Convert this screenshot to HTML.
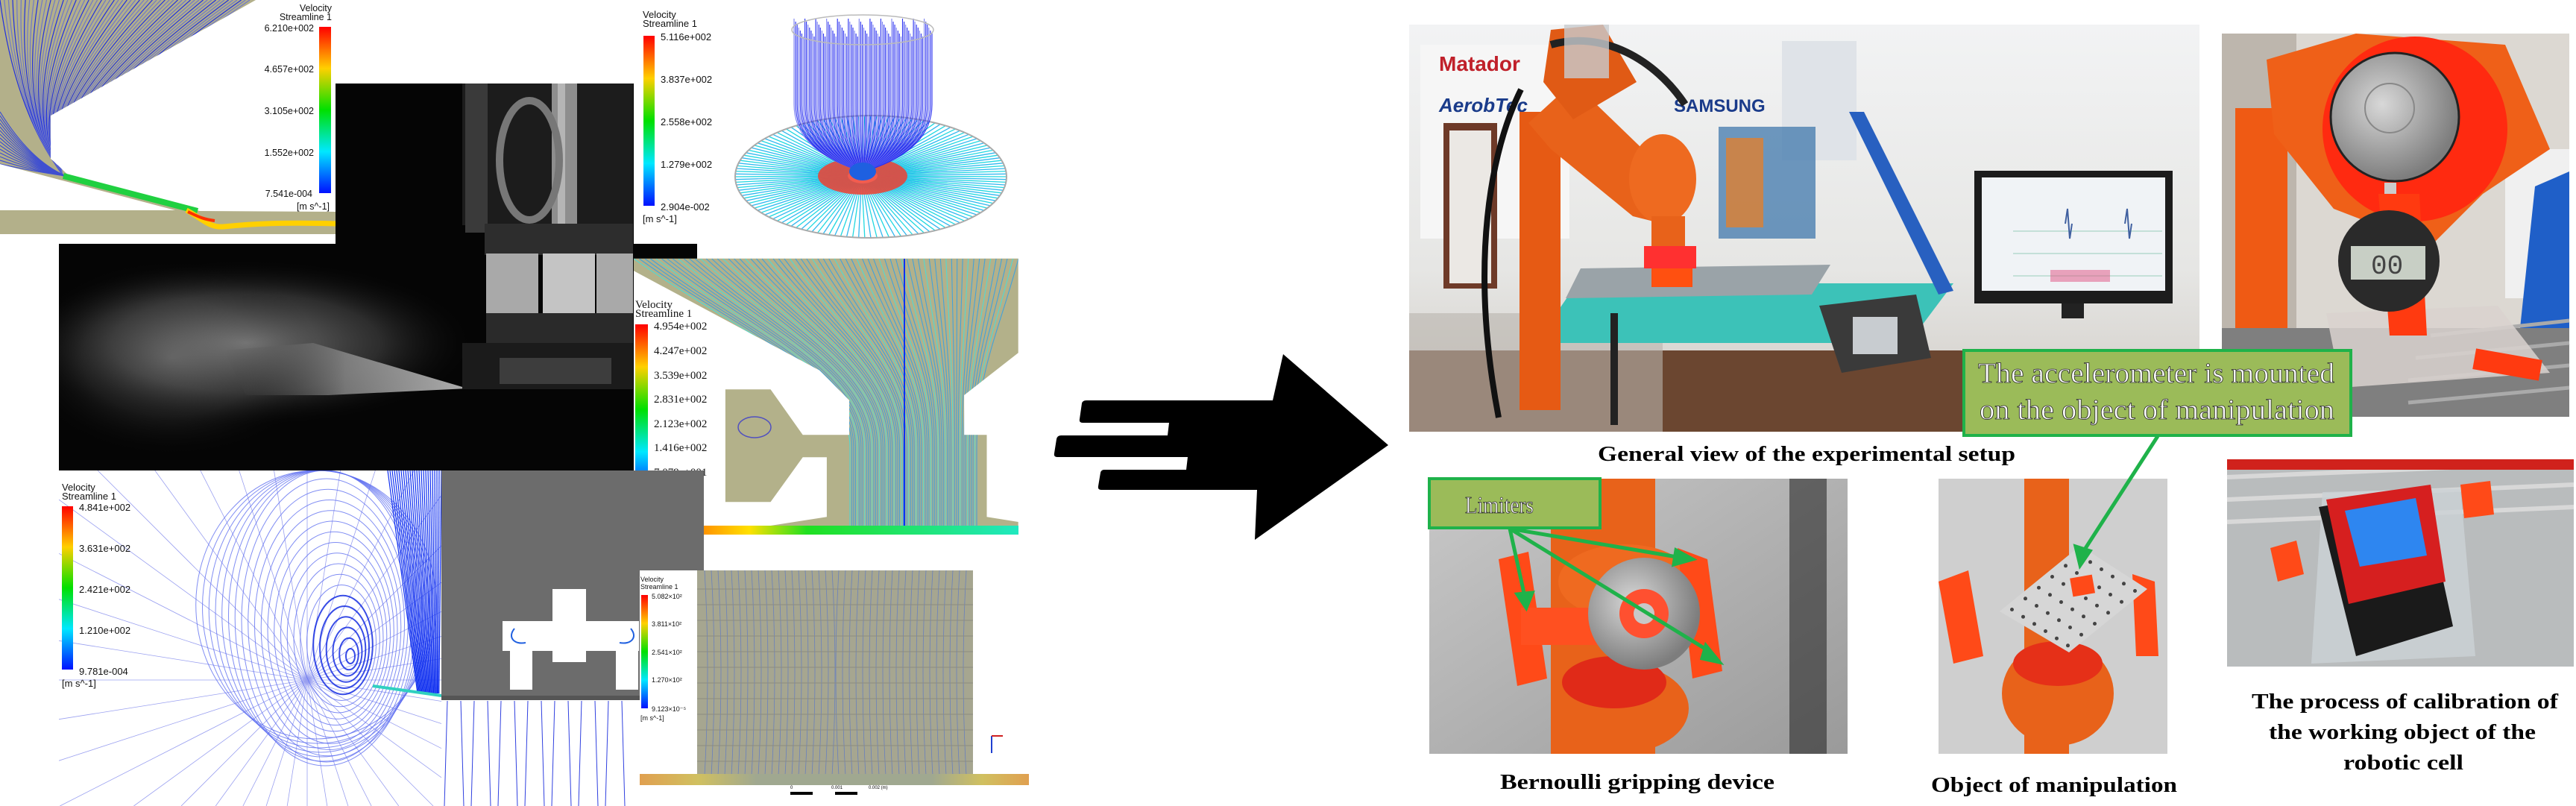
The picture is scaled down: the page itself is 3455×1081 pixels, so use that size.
<!DOCTYPE html>
<html><head><meta charset="utf-8"><style>
html,body{margin:0;padding:0;background:#fff;width:3455px;height:1081px;overflow:hidden;}
svg{display:block;overflow:hidden;}
.ser{font-family:"Liberation Serif",serif;}
.san{font-family:"Liberation Sans",sans-serif;}
</style></head><body>
<svg id="root" width="3455" height="1081" viewBox="0 0 3455 1081" xmlns="http://www.w3.org/2000/svg">
<defs>
<linearGradient id="cbar" x1="0" y1="0" x2="0" y2="1">
<stop offset="0" stop-color="#ff0000"/><stop offset="0.25" stop-color="#ffd000"/><stop offset="0.5" stop-color="#00e000"/><stop offset="0.75" stop-color="#00e8ff"/><stop offset="1" stop-color="#0010ff"/>
</linearGradient>
<linearGradient id="strip1" x1="0" y1="0" x2="1" y2="0">
<stop offset="0" stop-color="#ff2000"/><stop offset="0.3" stop-color="#ffe000"/><stop offset="0.45" stop-color="#20e020"/><stop offset="1" stop-color="#20e8c0"/>
</linearGradient>
<linearGradient id="strip2" x1="0" y1="0" x2="1" y2="0">
<stop offset="0" stop-color="#e0a050"/><stop offset="0.15" stop-color="#d0c060"/><stop offset="0.3" stop-color="#a0a890"/><stop offset="0.75" stop-color="#a0a890"/><stop offset="0.88" stop-color="#d0c060"/><stop offset="1" stop-color="#e0a050"/>
</linearGradient>
<radialGradient id="smoke" cx="0.5" cy="0.5" r="0.5">
<stop offset="0" stop-color="#8a8a8a" stop-opacity="0.9"/><stop offset="0.6" stop-color="#555" stop-opacity="0.5"/><stop offset="1" stop-color="#111" stop-opacity="0"/>
</radialGradient>
<linearGradient id="jet" x1="1" y1="0" x2="0" y2="0">
<stop offset="0" stop-color="#d8d8d8"/><stop offset="0.5" stop-color="#8d8d8d"/><stop offset="1" stop-color="#3a3a3a" stop-opacity="0"/>
</linearGradient>
<radialGradient id="metal" cx="0.4" cy="0.4" r="0.6">
<stop offset="0" stop-color="#d8d8d8"/><stop offset="1" stop-color="#7d7d7d"/>
</radialGradient>
<linearGradient id="room" x1="0" y1="0" x2="0" y2="1">
<stop offset="0" stop-color="#f2f3f4"/><stop offset="0.6" stop-color="#e6e6e4"/><stop offset="1" stop-color="#cfcac4"/>
</linearGradient>
<linearGradient id="grayfloor" x1="0" y1="0" x2="1" y2="1">
<stop offset="0" stop-color="#c8c8c8"/><stop offset="1" stop-color="#9a9a9a"/>
</linearGradient>
<clipPath id="clipTL"><polygon points="0,0 343,0 68,155 68,213 95,238 268,283 450,284 450,314 0,314 0,282 235,282 0,220"/></clipPath>
<clipPath id="clipMid"><polygon id="mid-clip-poly"/></clipPath>
<clipPath id="clipBL"><rect x="79" y="631" width="513" height="450"/><rect x="592" y="938" width="266" height="143"/></clipPath>
<clipPath id="clipBR"><rect x="935" y="765" width="370" height="275"/></clipPath>
<clipPath id="clipDisc"><rect x="940" y="0" width="440" height="327"/></clipPath>
<clipPath id="clipJet"><polygon points="450,112 850,112 850,631 79,631 79,327 450,327"/></clipPath>
</defs>

<g id="cfd-top-left">
<rect x="0" y="0" width="450" height="327" fill="#fff"/>
<polygon points="0,0 343,0 68,155 68,213 95,238 268,283 450,284 450,314 0,314 0,282 235,282 0,220" fill="#b3b08a"/>
<g id="tl-lines" clip-path="url(#clipTL)"></g>
<path d="M85,236 L265,283" stroke="#20d040" stroke-width="8" fill="none"/>
<path d="M250,282 C270,292 280,306 300,304 C340,300 380,298 450,300" stroke="#ffd000" stroke-width="7" fill="none"/>
<path d="M252,284 C265,290 272,294 288,296" stroke="#ff3000" stroke-width="4" fill="none"/>
<rect x="428" y="36" width="16" height="223" fill="url(#cbar)"/>
<g class="san" font-size="12.5" fill="#111" text-anchor="end">
<text x="445" y="15">Velocity</text><text x="445" y="27">Streamline 1</text>
<text x="421" y="42">6.210e+002</text><text x="421" y="97">4.657e+002</text><text x="421" y="153">3.105e+002</text><text x="421" y="209">1.552e+002</text><text x="419" y="264">7.541e-004</text><text x="442" y="281">[m s^-1]</text>
</g>
</g>

<g id="photo-jet">
<polygon points="450,112 850,112 850,327 935,327 935,347 850,347 850,631 79,631 79,327 450,327" fill="#050505"/>
<g clip-path="url(#clipJet)">
<ellipse cx="330" cy="460" rx="300" ry="110" fill="url(#smoke)"/>
<ellipse cx="230" cy="480" rx="200" ry="130" fill="url(#smoke)" opacity="0.5"/>
<polygon points="627,521 420,460 300,470 330,530 440,530" fill="url(#jet)" opacity="0.8"/>
</g>
<rect x="620" y="112" width="229" height="190" fill="#1c1c1c"/>
<rect x="624" y="112" width="30" height="200" fill="#3a3a3a"/>
<rect x="740" y="112" width="34" height="245" fill="#8e8e8e"/>
<rect x="748" y="112" width="10" height="245" fill="#b5b5b5"/>
<ellipse cx="710" cy="215" rx="40" ry="80" fill="none" stroke="#777" stroke-width="10"/>
<rect x="650" y="300" width="199" height="42" fill="#2d2d2d"/>
<rect x="652" y="340" width="70" height="80" fill="#a9a9a9"/>
<rect x="728" y="340" width="70" height="80" fill="#c4c4c4"/>
<rect x="800" y="340" width="49" height="80" fill="#a9a9a9"/>
<rect x="652" y="420" width="197" height="40" fill="#2a2a2a"/>
<rect x="620" y="460" width="229" height="62" fill="#1b1b1b"/>
<rect x="670" y="480" width="150" height="35" fill="#3d3d3d"/>
</g>

<g id="cfd-disc">
<rect x="850" y="0" width="530" height="327" fill="#fff"/>
<g id="disc-lines" clip-path="url(#clipDisc)"></g>
<rect x="863" y="48" width="15" height="228" fill="url(#cbar)"/>
<g class="san" font-size="13" fill="#111">
<text x="862" y="24">Velocity</text><text x="862" y="36">Streamline 1</text>
<text x="886" y="54">5.116e+002</text><text x="886" y="111">3.837e+002</text><text x="886" y="168">2.558e+002</text><text x="886" y="225">1.279e+002</text><text x="886" y="282">2.904e-002</text><text x="862" y="298">[m s^-1]</text>
</g>
</g>

<g id="cfd-mid">
<rect x="850" y="347" width="530" height="370" fill="#fff"/>
<polygon id="mid-poly" fill="#b3b18a"/>
<g id="mid-lines" clip-path="url(#clipMid)"></g>
<rect x="850" y="705" width="516" height="12" fill="url(#strip1)"/>
<rect x="852" y="435" width="17" height="228" fill="url(#cbar)"/>
<g class="ser" font-size="15" fill="#111">
<text x="852" y="413">Velocity</text><text x="852" y="425">Streamline 1</text>
<text x="877" y="442">4.954e+002</text><text x="877" y="475">4.247e+002</text><text x="877" y="508">3.539e+002</text><text x="877" y="540">2.831e+002</text><text x="877" y="573">2.123e+002</text><text x="877" y="605">1.416e+002</text><text x="877" y="638">7.079e+001</text><text x="877" y="671">1.629e-002</text><text x="852" y="686">[m s^-1]</text>
</g>
</g>

<g id="cfd-bottom-left">
<rect x="79" y="631" width="513" height="450" fill="#fff"/>
<rect x="592" y="631" width="352" height="302" fill="#6c6c6c"/>
<rect x="858" y="727" width="86" height="40" fill="#6c6c6c"/>
<rect x="592" y="933" width="266" height="148" fill="#fff"/>
<g id="bl-lines" clip-path="url(#clipBL)"></g>
<g fill="#fff">
<rect x="741" y="790" width="45" height="98" />
<rect x="674" y="833" width="183" height="40"/>
<rect x="684" y="870" width="30" height="55"/>
<rect x="826" y="870" width="30" height="55"/>
</g>
<path d="M690,843 C680,855 690,865 705,862" stroke="#2060e0" stroke-width="2" fill="none"/>
<path d="M846,843 C856,855 846,865 831,862" stroke="#2060e0" stroke-width="2" fill="none"/>
<rect x="592" y="933" width="266" height="6" fill="#555"/>
<rect x="83" y="679" width="15" height="219" fill="url(#cbar)"/>
<g class="san" font-size="13" fill="#111">
<text x="83" y="658">Velocity</text><text x="83" y="670">Streamline 1</text>
<text x="106" y="685">4.841e+002</text><text x="106" y="740">3.631e+002</text><text x="106" y="795">2.421e+002</text><text x="106" y="850">1.210e+002</text><text x="106" y="905">9.781e-004</text><text x="83" y="921">[m s^-1]</text>
</g>
</g>

<g id="cfd-bottom-right">
<rect x="858" y="765" width="522" height="288" fill="#fff"/>
<rect x="935" y="765" width="370" height="275" fill="#a6a690"/>
<g id="br-lines" clip-path="url(#clipBR)"></g>
<rect x="858" y="1038" width="522" height="15" fill="url(#strip2)"/>
<rect x="860" y="798" width="9" height="152" fill="url(#cbar)"/>
<g class="san" font-size="9" fill="#111">
<text x="859" y="780">Velocity</text><text x="859" y="790">Streamline 1</text>
<text x="874" y="803">5.082×10²</text><text x="874" y="840">3.811×10²</text><text x="874" y="878">2.541×10²</text><text x="874" y="915">1.270×10²</text><text x="874" y="954">9.123×10⁻⁵</text><text x="859" y="966">[m s^-1]</text>
</g>
<line x1="1330" y1="987" x2="1330" y2="1010" stroke="#2040d0" stroke-width="2"/>
<line x1="1330" y1="987" x2="1345" y2="987" stroke="#d02020" stroke-width="2"/>
<g>
<rect x="1060" y="1062" width="30" height="4" fill="#000"/><rect x="1120" y="1062" width="30" height="4" fill="#000"/>
<text x="1060" y="1058" font-size="6" class="san">0</text><text x="1115" y="1058" font-size="6" class="san">0.001</text><text x="1165" y="1058" font-size="6" class="san">0.002 (m)</text>
</g>
</g>

<path fill="#000"
d="M1721,475 L1862,597 L1683,724 L1686,657 L1477,657 Q1472,657 1473,652 L1476,634 Q1477,630 1481,630 L1591,630 L1593,613 L1418,613 Q1413,613 1414,608 L1417,589 Q1418,584 1423,584 L1566,584 L1568,567 L1452,567 Q1447,567 1448,562 L1451,541 Q1452,537 1457,537 L1707,537 Z"/>

<g id="photo-general">
<rect x="1890" y="33" width="1060" height="546" fill="url(#room)"/>
<rect x="1905" y="60" width="200" height="260" fill="#f6f6f6"/>
<text x="1930" y="95" font-size="28" font-weight="bold" fill="#c0202a" class="san">Matador</text>
<text x="1930" y="150" font-size="26" font-weight="bold" fill="#1a3b8a" class="san" font-style="italic">AerobTec</text>
<text x="2245" y="150" font-size="24" font-weight="bold" fill="#1a3b8a" class="san">SAMSUNG</text>
<rect x="2390" y="55" width="100" height="160" fill="#dfe3e8"/>
<rect x="1936" y="165" width="72" height="222" fill="#6e3a28"/>
<rect x="1944" y="175" width="56" height="205" fill="#ebe8e4"/>
<rect x="2305" y="170" width="130" height="150" fill="#3470a8" opacity="0.7"/>
<rect x="2315" y="185" width="50" height="120" fill="#e08030" opacity="0.8"/>
<rect x="1890" y="470" width="1060" height="109" fill="#6b4630"/>
<rect x="1890" y="420" width="340" height="159" fill="#b9b4ad" opacity="0.6"/>
<polygon points="2115,380 2620,380 2560,460 2060,460" fill="#3cc2b8"/>
<polygon points="2120,360 2455,355 2430,395 2100,400" fill="#9aa3a8"/>
<rect x="2160" y="420" width="10" height="150" fill="#222"/>
<polygon points="2480,150 2500,150 2620,390 2600,395" fill="#2860c0"/>
<rect x="2648" y="229" width="266" height="178" fill="#1c1c1c"/>
<rect x="2658" y="238" width="246" height="152" fill="#f0f3f6"/>
<path d="M2700,310 L2900,310 M2700,340 L2900,340 M2700,370 L2900,370" stroke="#9cb" stroke-width="1"/>
<path d="M2770,300 l3,-20 l3,40 l3,-20 M2850,300 l3,-20 l3,40 l3,-20" stroke="#4060a0" stroke-width="2" fill="none"/>
<rect x="2750" y="362" width="80" height="16" fill="#e05080" opacity="0.5"/>
<rect x="2765" y="407" width="30" height="20" fill="#222"/>
<polygon points="2440,410 2570,395 2590,480 2470,500" fill="#3a3a3a"/>
<rect x="2485" y="425" width="60" height="50" fill="#c8ccd0"/>
<rect x="2038" y="150" width="55" height="400" fill="#e65a14"/>
<polygon points="2050,165 2110,110 2255,250 2230,300 2190,290 2080,200" fill="#e8621a"/>
<polygon points="2080,40 2150,33 2195,110 2110,160 2070,110" fill="#e05a15"/>
<ellipse cx="2230" cy="240" rx="45" ry="60" fill="#ee6a20"/>
<rect x="2215" y="290" width="45" height="40" fill="#e8621a"/>
<rect x="2205" y="330" width="70" height="30" fill="#ff3030"/>
<rect x="2215" y="360" width="55" height="25" fill="#ff5010"/>
<path d="M2040,120 C2000,200 1970,350 2010,560" stroke="#111" stroke-width="8" fill="none"/>
<path d="M2080,60 C2150,40 2220,80 2260,140" stroke="#222" stroke-width="10" fill="none"/>
<rect x="2098" y="33" width="60" height="72" fill="#c8ccd0" opacity="0.8"/>
</g>

<g id="photo-gauge">
<rect x="2980" y="45" width="466" height="514" fill="#dcd8d2"/>
<rect x="2980" y="45" width="100" height="514" fill="#bdb6ad"/>
<rect x="3360" y="200" width="86" height="200" fill="#f0f0f0"/>
<polygon points="3400,250 3446,230 3446,440 3380,440" fill="#1f5fc8"/>
<rect x="2998" y="145" width="70" height="330" fill="#ef5a14"/>
<polygon points="3040,80 3160,45 3360,60 3420,200 3330,260 3260,330 3130,280 3050,180" fill="#ef6018"/>
<rect x="2980" y="440" width="466" height="119" fill="#7f7f7f"/>
<path d="M3260,450 L3446,430 M3240,480 L3446,460 M3230,510 L3446,490 M3230,540 L3446,520" stroke="#aaa" stroke-width="5"/>
<polygon points="3120,420 3350,410 3420,500 3140,520" fill="#d9d2cf" opacity="0.85"/>
<circle cx="3239" cy="173" r="124" fill="#ff2a10"/>
<circle cx="3212" cy="157" r="86" fill="url(#metal)" stroke="#222" stroke-width="3"/>
<circle cx="3205" cy="145" r="33" fill="none" stroke="#888" stroke-width="2"/>
<rect x="3198" y="245" width="16" height="40" fill="#ccc"/>
<polygon points="3190,260 3245,260 3255,450 3205,450" fill="#ff3a10"/>
<circle cx="3204" cy="350" r="68" fill="#2a2a2a"/>
<rect x="3153" y="330" width="100" height="45" fill="#c8cfc5"/>
<text x="3180" y="367" font-size="36" font-family="Liberation Mono,monospace" fill="#444">00</text>
<rect x="3318" y="475" width="90" height="28" fill="#ff3a10" transform="rotate(10 3363 489)"/>
</g>

<g id="photo-bernoulli">
<rect x="1917" y="642" width="561" height="369" fill="url(#grayfloor)"/>
<rect x="2400" y="642" width="50" height="369" fill="#2a2a2a" opacity="0.6"/>
<rect x="2080" y="642" width="140" height="369" fill="#e8621a"/>
<ellipse cx="2180" cy="780" rx="90" ry="50" fill="#ef6a20"/>
<ellipse cx="2175" cy="950" rx="90" ry="60" fill="#e8621a"/>
<ellipse cx="2165" cy="915" rx="70" ry="35" fill="#e02a18"/>
<polygon points="2010,750 2050,740 2075,910 2035,920" fill="#ff4a18"/>
<polygon points="2250,735 2290,750 2310,900 2270,910" fill="#ff4a18"/>
<rect x="2040" y="815" width="150" height="50" fill="#ff5020"/>
<circle cx="2205" cy="823" r="75" fill="url(#metal)"/>
<circle cx="2205" cy="823" r="33" fill="#ff5030"/>
<circle cx="2205" cy="823" r="14" fill="#c8c8c8"/>
</g>

<g id="photo-object">
<rect x="2600" y="642" width="307" height="369" fill="#cfcfcf"/>
<rect x="2715" y="642" width="60" height="369" fill="#e8621a"/>
<ellipse cx="2760" cy="930" rx="75" ry="70" fill="#e8621a"/>
<ellipse cx="2760" cy="890" rx="60" ry="30" fill="#e53018"/>
<polygon points="2600,780 2640,765 2660,880 2620,890" fill="#ff4a18"/>
<polygon points="2860,770 2890,780 2895,880 2865,880" fill="#ff4a18"/>
<polygon points="2790,732 2880,790 2775,875 2682,820" fill="#d6d6d6"/>
<g id="plate-holes"></g>
<rect x="2778" y="773" width="30" height="25" fill="#ff4a18" transform="rotate(-10 2793 785)"/>
</g>

<g id="photo-calib">
<rect x="2987" y="616" width="465" height="278" fill="#b9bcbd"/>
<path d="M2987,640 L3452,620 M2987,670 L3452,650 M2987,700 L3452,680" stroke="#d8d8d8" stroke-width="6"/>
<rect x="2987" y="616" width="465" height="14" fill="#d0221c"/>
<polygon points="3115,660 3300,655 3320,880 3100,890" fill="#ccd2d6" opacity="0.8"/>
<polygon points="3110,680 3250,655 3290,840 3160,880" fill="#1a1a1a"/>
<polygon points="3120,670 3260,650 3280,780 3150,810" fill="#d61f1f"/>
<polygon points="3145,685 3240,668 3255,745 3165,760" fill="#2e86f0"/>
<polygon points="3045,735 3080,725 3090,770 3055,780" fill="#ff4a18"/>
<polygon points="3300,650 3340,645 3345,690 3305,695" fill="#ff4a18"/>
</g>

<g stroke="#1fb24a" stroke-width="5" fill="#1fb24a">
<line x1="2025" y1="709" x2="2045" y2="800"/><polygon points="2035,797 2055,795 2047,815"/>
<line x1="2025" y1="709" x2="2255" y2="748"/><polygon points="2248,738 2270,750 2245,757"/>
<line x1="2025" y1="709" x2="2295" y2="875"/><polygon points="2288,866 2306,888 2283,883"/>
<line x1="2894" y1="585" x2="2794" y2="740"/><polygon points="2784,733 2790,758 2803,739"/>
</g>
<g>
<rect x="1917" y="642" width="229" height="66" fill="#9bbb59" stroke="#1fb24a" stroke-width="4"/>
<text x="2011" y="688" font-size="32" class="ser" fill="#fff" stroke="#2a2a2a" stroke-width="0.8" text-anchor="middle" textLength="92" lengthAdjust="spacingAndGlyphs">Limiters</text>
</g>
<g>
<rect x="2634" y="470" width="519" height="114" fill="#9bbb59" stroke="#1fb24a" stroke-width="4"/>
<text x="2653" y="513" font-size="38" class="ser" fill="#fff" stroke="#2a2a2a" stroke-width="0.8" textLength="478" lengthAdjust="spacingAndGlyphs">The accelerometer is mounted</text>
<text x="2655" y="562" font-size="38" class="ser" fill="#fff" stroke="#2a2a2a" stroke-width="0.8" textLength="476" lengthAdjust="spacingAndGlyphs">on the object of manipulation</text>
</g>

<g class="ser" font-weight="bold" font-size="29" fill="#000">
<text x="2143" y="618" textLength="560" lengthAdjust="spacingAndGlyphs">General view of the experimental  setup</text>
<text x="2012" y="1058" textLength="368" lengthAdjust="spacingAndGlyphs">Bernoulli gripping device</text>
<text x="2590" y="1062" textLength="330" lengthAdjust="spacingAndGlyphs">Object of manipulation</text>
<text x="3020" y="950" textLength="411" lengthAdjust="spacingAndGlyphs">The process of calibration of</text>
<text x="3043" y="991" textLength="358" lengthAdjust="spacingAndGlyphs">the working object of the</text>
<text x="3143" y="1032" textLength="161" lengthAdjust="spacingAndGlyphs">robotic cell</text>
</g>
</svg>
<script>
var NS="http://www.w3.org/2000/svg";
function mk(parent,tag,attrs){var e=document.createElementNS(NS,tag);for(var k in attrs)e.setAttribute(k,attrs[k]);parent.appendChild(e);return e;}
var g=document.getElementById('tl-lines');
for(var i=0;i<60;i++){var t=i/59;var x0=t*335;mk(g,'path',{d:'M'+x0.toFixed(1)+',0 Q'+(20+t*40).toFixed(1)+','+(150+t*40).toFixed(1)+' 85,236',stroke:(i%3?'#6f78c8':'#2030e0'),'stroke-width':'1.2',fill:'none'});}
for(var i=0;i<15;i++){mk(g,'path',{d:'M0,'+(150+i*5)+' Q40,'+(215+i)+' 88,236',stroke:'#4050d0','stroke-width':'1.2',fill:'none'});}
g=document.getElementById('disc-lines');
var cx=1168,cy=237,rx=182,ry=82;
for(var i=0;i<140;i++){var a=i/140*Math.PI*2;var ex=cx+rx*Math.cos(a),ey=cy+ry*Math.sin(a);
mk(g,'line',{x1:(1157+20*Math.cos(a)).toFixed(1),y1:(236+10*Math.sin(a)).toFixed(1),x2:ex.toFixed(1),y2:ey.toFixed(1),stroke:(i%2?'#30b8f0':'#20d8e0'),'stroke-width':'1.3'});}
mk(g,'ellipse',{cx:cx,cy:cy,rx:rx,ry:ry,fill:'none',stroke:'#aaa','stroke-width':'2'});
mk(g,'ellipse',{cx:1157,cy:236,rx:60,ry:25,fill:'#f04030',opacity:'0.85'});
for(var i=0;i<90;i++){var t=i/89;var x0=1065+t*185;mk(g,'path',{d:'M'+x0.toFixed(1)+','+(25+(i%7)*4)+' L'+x0.toFixed(1)+',140 Q'+x0.toFixed(1)+',200 '+(1150+t*15).toFixed(1)+',228',stroke:(i%3?'#2a30f0':'#7a80f0'),'stroke-width':'1.1',fill:'none'});}
mk(g,'ellipse',{cx:1157,cy:40,rx:95,ry:20,fill:'none',stroke:'#bbb','stroke-width':'1.5'});
mk(g,'ellipse',{cx:1157,cy:230,rx:18,ry:12,fill:'#1e60e0'});
var pts=[[0,50],[1490,50],[1490,430],[1280,600],[1280,760],[1368,760],[1368,1090],[1490,1110],[1490,1125],[0,1125],[530,1125],[748,1090],[748,850],[655,850],[530,1030],[355,1030],[355,577],[530,577],[655,760],[835,760],[835,620],[720,500],[0,100]];
var ptsStr=pts.map(function(p){return (850+p[0]/2.889).toFixed(1)+','+(330+p[1]/3).toFixed(1);}).join(' ');
document.getElementById('mid-poly').setAttribute('points',ptsStr);
document.getElementById('mid-clip-poly').setAttribute('points',ptsStr);
g=document.getElementById('mid-lines');
for(var i=0;i<70;i++){var t=i/69;var xt=850+t*516;var xb=1140+t*170;var c=(i%4?'#30a0e8':'#40e0e0');
mk(g,'path',{d:'M'+xt.toFixed(1)+',347 C'+((xt+xb)/2).toFixed(1)+',450 '+xb.toFixed(1)+',500 '+xb.toFixed(1)+',600 L'+xb.toFixed(1)+',705',stroke:c,'stroke-width':'1.1',fill:'none',opacity:'0.85'});}
mk(g,'ellipse',{cx:1012,cy:573,rx:22,ry:14,fill:'none',stroke:'#5050c0','stroke-width':'1.5'});
mk(g,'line',{x1:1213,y1:347,x2:1213,y2:717,stroke:'#1030f0','stroke-width':'2'});
// bottom-left: radial lines clipped to panel box analytically
g=document.getElementById('bl-lines');
var X0=412,Y0=912,minX=79,maxX=592,minY=631,maxY=1081;
for(var i=0;i<40;i++){var a=(i/40)*Math.PI*2;var dx=Math.cos(a),dy=Math.sin(a);var tt=1e9;
if(dx>1e-6)tt=Math.min(tt,(maxX-X0)/dx);if(dx<-1e-6)tt=Math.min(tt,(minX-X0)/dx);
if(dy>1e-6)tt=Math.min(tt,(maxY-Y0)/dy);if(dy<-1e-6)tt=Math.min(tt,(minY-Y0)/dy);
mk(g,'line',{x1:X0,y1:Y0,x2:(X0+tt*dx).toFixed(1),y2:(Y0+tt*dy).toFixed(1),stroke:'#9aa0f0','stroke-width':'0.8'});}
for(var i=0;i<24;i++){var r=8+i*9;var ecx=470-i*2,ecy=880-i*3,erx=r*0.75,ery=r*1.25;
if(ecy-ery<minY)ery=ecy-minY;if(ecy+ery>maxY)ery=maxY-ecy;if(ecx+erx>maxX)erx=maxX-ecx;
mk(g,'ellipse',{cx:ecx.toFixed(1),cy:ecy.toFixed(1),rx:erx.toFixed(1),ry:ery.toFixed(1),fill:'none',stroke:(i<6?'#0820e0':'#6070f0'),'stroke-width':(i<6?'2':'1'),opacity:'0.8'});}
for(var i=0;i<25;i++){mk(g,'line',{x1:(520+i*3),y1:631,x2:(560+i*1.2),y2:930,stroke:'#1030f0','stroke-width':'1.2'});}
for(var i=0;i<14;i++){var x=600+i*18;mk(g,'line',{x1:x,y1:940,x2:x+(i%2?4:-4),y2:1081,stroke:'#3040e0','stroke-width':'1'});}
mk(g,'path',{d:'M500,920 L592,933',stroke:'#30d0c0','stroke-width':'4'});
g=document.getElementById('br-lines');
for(var i=0;i<40;i++){var x=945+i*9;mk(g,'path',{d:'M'+x+',765 Q'+(x+(i<20?8:-8))+',900 '+x+',1040',stroke:'#5070d0','stroke-width':'0.8',fill:'none',opacity:'0.7'});}
for(var i=0;i<12;i++){mk(g,'line',{x1:935,y1:790+i*21,x2:1305,y2:790+i*21,stroke:'#8c8c80','stroke-width':'1'});}
g=document.getElementById('plate-holes');
for(var r=0;r<6;r++)for(var c=0;c<6;c++){var u=(c+0.5)/6,v=(r+0.5)/6;var x=2790+(2880-2790)*u+(2682-2790)*v;var y=732+(790-732)*u+(820-732)*v;mk(g,'circle',{cx:x.toFixed(1),cy:y.toFixed(1),r:2.5,fill:'#444'});}
</script>
</body></html>
